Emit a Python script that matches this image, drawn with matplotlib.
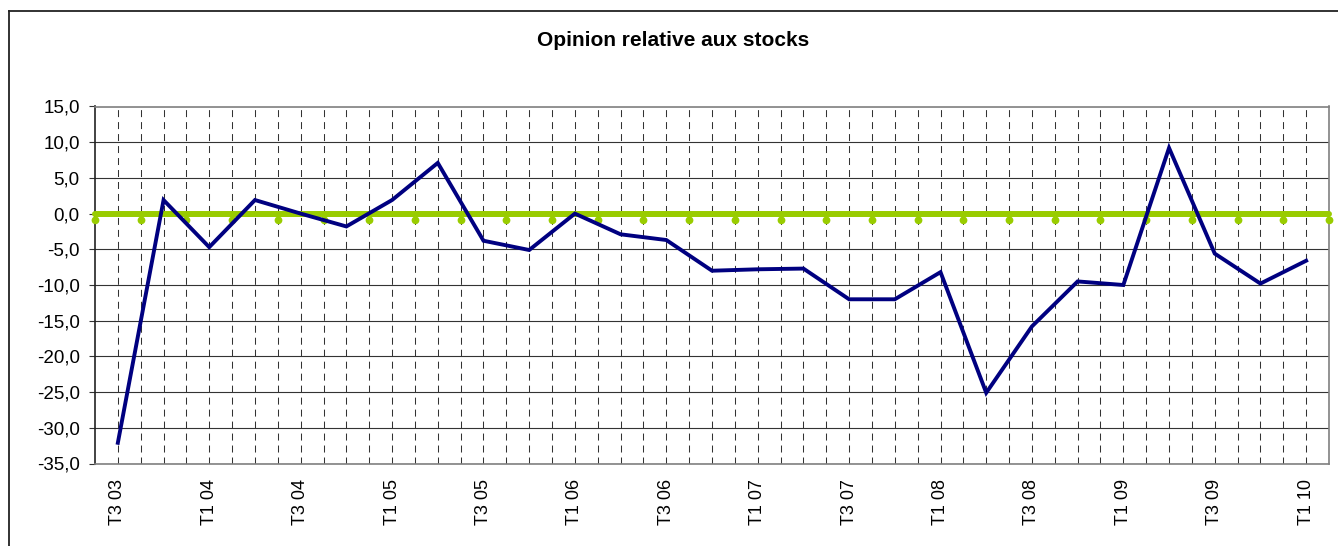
import numpy as np
import matplotlib
matplotlib.use("Agg")
import matplotlib.pyplot as plt
from matplotlib.path import Path
from matplotlib.lines import Line2D
from matplotlib.ticker import FuncFormatter

plt.rcParams['font.family'] = ['Liberation Sans', 'DejaVu Sans']

# quarters T3 03 .. T1 10
quarters = ["T3 03", "T4 03",
            "T1 04", "T2 04", "T3 04", "T4 04",
            "T1 05", "T2 05", "T3 05", "T4 05",
            "T1 06", "T2 06", "T3 06", "T4 06",
            "T1 07", "T2 07", "T3 07", "T4 07",
            "T1 08", "T2 08", "T3 08", "T4 08",
            "T1 09", "T2 09", "T3 09", "T4 09",
            "T1 10"]
opinion = [-32.1, 1.9, -4.7, 1.9, 0.0, -1.8, 1.9, 7.1, -3.8, -5.1,
           0.0, -2.9, -3.7, -8.0, -7.8, -7.7, -12.0, -12.0, -8.2, -25.1,
           -15.8, -9.5, -10.0, 9.2, -5.6, -9.8, -6.6]
# zero reference line (secondary series, one point per category edge)
zero_ref = [0.0] * (len(quarters) + 1)

yticks = np.arange(-35, 16, 5)

fig = plt.figure(figsize=(13.38, 5.46), dpi=100)
ax = fig.add_axes([95/1338, 1 - 463.5/546, (1329 - 95)/1338, 357/546])

x = np.arange(len(quarters))

# dashed vertical grid: category centres and edges
for xv in np.arange(0, len(quarters), 0.5):
    ax.axvline(xv, color='#333333', lw=0.75, ls=(0, (6.7, 4.8)), zorder=1)
for yv in yticks:
    ax.axhline(yv, color='#333333', lw=0.8, zorder=1)

# drop-shaped marker hanging under the green line
circ = Path.unit_circle()
drop = Path(circ.vertices + np.array([0, -1.5]), circ.codes)

ax.plot(np.arange(len(zero_ref)) - 0.5, zero_ref, color='#99CC00', lw=4.3,
        marker=drop, markersize=14, markeredgewidth=0,
        markerfacecolor='#99CC00', zorder=3, clip_on=False,
        solid_capstyle='round')
ax.plot(x, opinion, color='#000080', lw=2.8, zorder=4, solid_joinstyle='miter')

ax.set_xlim(-0.5, len(quarters) - 0.5)
ax.set_ylim(-35, 15)
ax.set_yticks(yticks)
ax.yaxis.set_major_formatter(FuncFormatter(lambda v, p: f"{v:.1f}".replace('.', ',')))
ax.set_xticks(x[::2])
ax.set_xticklabels(quarters[::2], rotation=90)
ax.tick_params(axis='y', length=4.5, width=0.8, pad=6.5, labelsize=13.5, color='#333333')
ax.tick_params(axis='x', length=0, pad=11, labelsize=13)

for s in ['top', 'right', 'bottom']:
    ax.spines[s].set_color('#808080')
    ax.spines[s].set_linewidth(1.2)
ax.spines['left'].set_color('#222222')
ax.spines['left'].set_linewidth(1.2)

fig.text(673/1338, 1 - 41/546, "Opinion relative aux stocks", ha='center',
         va='center', fontsize=15, fontweight='bold')

# outer chart frame (left and top edges visible)
fig.add_artist(Line2D([8.5/1338, 8.5/1338], [0, 1 - 10.5/546], transform=fig.transFigure,
                      color='#222222', lw=1.3))
fig.add_artist(Line2D([8.5/1338, 1], [1 - 10.5/546, 1 - 10.5/546], transform=fig.transFigure,
                      color='#222222', lw=1.3))

fig.savefig("out.png", dpi=100)
